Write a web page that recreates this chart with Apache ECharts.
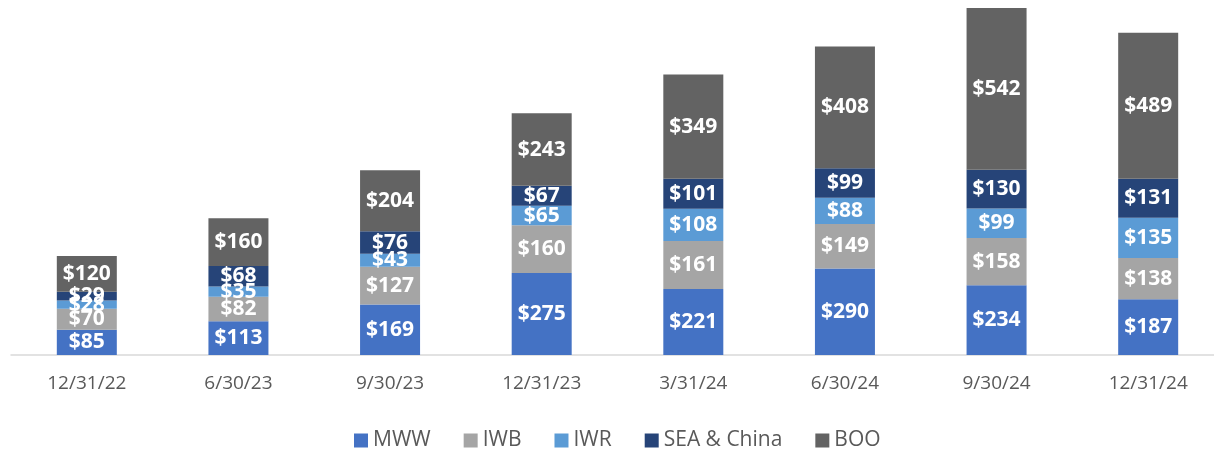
<!DOCTYPE html>
<html>
<head>
<meta charset="utf-8">
<script src="https://cdn.jsdelivr.net/npm/echarts@6/dist/echarts.min.js"></script>
<style>
  html, body { margin: 0; padding: 0; background: #fff; }
  #chart { width: 1214px; height: 456px; }
</style>
</head>
<body>
<div id="chart"></div>
<script>
// 季度
const categories = ["12/31/22", "6/30/23", "9/30/23", "12/31/23", "3/31/24", "6/30/24", "9/30/24", "12/31/24"];
// 各系列数值
const mww = [85, 113, 169, 275, 221, 290, 234, 187];
const iwb = [70, 82, 127, 160, 161, 149, 158, 138];
const iwr = [28, 35, 43, 65, 108, 88, 99, 135];
const seaChina = [29, 68, 76, 67, 101, 99, 130, 131];
const boo = [120, 160, 204, 243, 349, 408, 542, 489];

const seriesNames = ["MWW", "IWB", "IWR", "SEA & China", "BOO"];
const seriesData = [mww, iwb, iwr, seaChina, boo];
const colors = ["#4472C4", "#A5A5A5", "#5B9BD5", "#264478", "#636363"];

let chart = echarts.init(document.getElementById("chart"));
let options = {
  animation: false,
  grid: { left: 11, right: -10, top: 0, bottom: 101, outerBoundsMode: "none", containLabel: false },
  legend: {
    bottom: 0,
    left: 349,
    itemWidth: 14,
    itemHeight: 14,
    itemGap: 33,
    icon: "rect",
    textStyle: { color: "#595959", fontSize: 21, fontFamily: "Open Sans" },
    data: seriesNames,
  },
  xAxis: {
    type: "category",
    data: categories,
    axisLine: { lineStyle: { color: "#D9D9D9", width: 1.5 } },
    axisTick: { show: false },
    axisLabel: { color: "#595959", fontSize: 19, fontFamily: "Open Sans", margin: 19 },
  },
  yAxis: {
    type: "value",
    min: 0,
    max: 1190,
    show: false,
    splitLine: { show: false },
  },
  series: seriesNames.map((name, i) => ({
    name: name,
    type: "bar",
    stack: "total",
    barWidth: 60,
    data: seriesData[i],
    itemStyle: { color: colors[i] },
    label: {
      show: true,
      position: "inside",
      color: "#fff",
      fontWeight: "bold",
      fontSize: 21,
      fontFamily: "Open Sans",
      formatter: (p) => "$" + p.value,
    },
  })),
};
chart.setOption(options);
</script>
</body>
</html>
